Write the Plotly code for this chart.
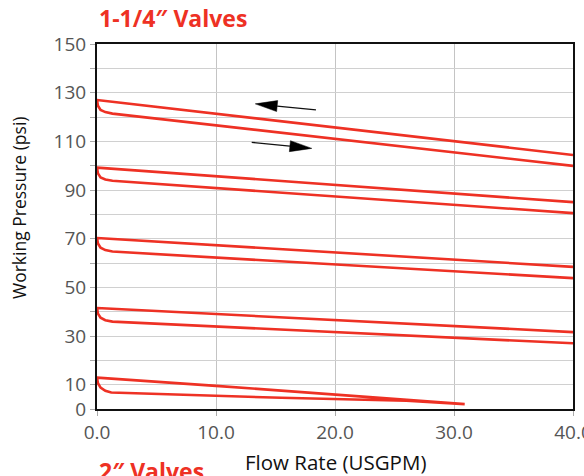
import plotly.graph_objects as go

# ---- data ----
# Each band: upper line (decreasing flow direction) and lower line (increasing flow)
band1_upper_x = [0.0, 40.0]
band1_upper_y = [127.0, 104.4]
band1_lower_x = [0.0, 0.08, 0.3, 0.7, 1.3, 40.0]
band1_lower_y = [127.0, 124.6, 122.9, 122.0, 121.4, 99.9]

band2_upper_x = [0.0, 40.0]
band2_upper_y = [99.2, 85.0]
band2_lower_x = [0.0, 0.08, 0.3, 0.7, 1.3, 40.0]
band2_lower_y = [99.2, 96.8, 95.2, 94.3, 93.8, 80.5]

band3_upper_x = [0.0, 40.0]
band3_upper_y = [70.3, 58.4]
band3_lower_x = [0.0, 0.08, 0.3, 0.7, 1.3, 40.0]
band3_lower_y = [70.3, 68.0, 66.3, 65.3, 64.7, 53.8]

band4_upper_x = [0.0, 40.0]
band4_upper_y = [41.5, 31.6]
band4_lower_x = [0.0, 0.08, 0.3, 0.7, 1.3, 40.0]
band4_lower_y = [41.5, 39.2, 37.5, 36.5, 35.9, 27.0]

band5_upper_x = [0.0, 10.0, 20.0, 30.9]
band5_upper_y = [12.9, 9.5, 6.0, 2.0]
band5_lower_x = [0.0, 0.08, 0.3, 0.7, 1.2, 15.5, 26.0, 30.9]
band5_lower_y = [12.9, 10.6, 8.8, 7.5, 6.8, 4.6, 3.4, 2.0]

bands = [
    (band1_upper_x, band1_upper_y, band1_lower_x, band1_lower_y),
    (band2_upper_x, band2_upper_y, band2_lower_x, band2_lower_y),
    (band3_upper_x, band3_upper_y, band3_lower_x, band3_lower_y),
    (band4_upper_x, band4_upper_y, band4_lower_x, band4_lower_y),
    (band5_upper_x, band5_upper_y, band5_lower_x, band5_lower_y),
]

# arrows: (tail_x, tail_y, tip_x, tip_y)
arrow_left = (18.4, 122.9, 13.3, 125.4)
arrow_right = (13.0, 109.6, 18.05, 107.1)

x_ticks = [0, 10, 20, 30, 40]
x_tick_labels = ["0.0", "10.0", "20.0", "30.0", "40.0"]
y_ticks = list(range(0, 151, 10))
y_tick_labels = ["0", "10", "", "30", "", "50", "", "70", "", "90", "", "110", "", "130", "", "150"]

RED = "#ee3124"
FONT = "Open Sans"

fig = go.Figure()
for ux, uy, lx, ly in bands:
    xs = list(reversed(ux)) + lx[1:]
    ys = list(reversed(uy)) + ly[1:]
    fig.add_trace(go.Scatter(x=xs, y=ys, mode="lines",
                             line=dict(color=RED, width=2.6),
                             hoverinfo="skip", showlegend=False))

# arrow heads as filled triangles (computed in pixel-equivalent space)
W, H = 584, 476
L, R, T, B = 97, 11, 44, 67
PW, PH = W - L - R, H - T - B
pxx = PW / 40.0
pxy = PH / 150.0
for tx, ty, hx, hy in (arrow_left, arrow_right):
    dx = (hx - tx) * pxx
    dy = (hy - ty) * pxy
    n = (dx * dx + dy * dy) ** 0.5
    ux_, uy_ = dx / n, dy / n
    hl, hw = 22.0, 5.5
    bx, by = hx * pxx - ux_ * hl, hy * pxy - uy_ * hl
    p1 = (bx - uy_ * hw, by + ux_ * hw)
    p2 = (bx + uy_ * hw, by - ux_ * hw)
    fig.add_trace(go.Scatter(x=[tx, bx / pxx], y=[ty, by / pxy], mode="lines",
                             line=dict(color="#111111", width=1.3),
                             hoverinfo="skip", showlegend=False))
    fig.add_trace(go.Scatter(x=[hx, p1[0] / pxx, p2[0] / pxx, hx],
                             y=[hy, p1[1] / pxy, p2[1] / pxy, hy],
                             mode="lines", fill="toself", fillcolor="#000000",
                             line=dict(color="#000000", width=0.5),
                             hoverinfo="skip", showlegend=False))


def py(pix):
    return (H - B - pix) / PH


def px(pix):
    return (pix - L) / PW


fig.update_layout(
    width=W, height=H,
    margin=dict(l=L, r=R, t=T, b=B, autoexpand=False),
    plot_bgcolor="white", paper_bgcolor="white",
    font=dict(family=FONT, color="#555555"),
    xaxis=dict(range=[0, 40], tickvals=x_ticks, ticktext=x_tick_labels,
               showgrid=True, gridcolor="#c4c4c4", gridwidth=1,
               showline=True, linecolor="#111111", linewidth=2, mirror=True,
               ticks="outside", ticklen=5, tickcolor="#aaaaaa",
               ticklabeloverflow="allow", automargin=False,
               tickfont=dict(size=19, color="#555555"), zeroline=False),
    yaxis=dict(range=[0, 150], tickvals=y_ticks, ticktext=y_tick_labels,
               showgrid=True, gridcolor="#d0d0d0", gridwidth=1,
               showline=True, linecolor="#111111", linewidth=2, mirror=True,
               ticks="outside", ticklen=5, tickcolor="#aaaaaa",
               ticklabeloverflow="allow", automargin=False,
               tickfont=dict(size=19, color="#555555"), zeroline=False),
    annotations=[
        dict(text="<b>1-1/4″ Valves</b>", xref="paper", yref="paper",
             x=0, y=py(18), xanchor="left", yanchor="middle",
             showarrow=False, font=dict(size=23, color=RED, family=FONT)),
        dict(text="<b>2″ Valves</b>", xref="paper", yref="paper",
             x=0, y=py(471), xanchor="left", yanchor="middle",
             showarrow=False, font=dict(size=23, color=RED, family=FONT)),
        dict(text="Working Pressure (psi)", xref="paper", yref="paper",
             x=px(19), y=py(208),
             xanchor="center", yanchor="middle", textangle=-90,
             showarrow=False, font=dict(size=17.5, color="#111111", family=FONT)),
        dict(text="Flow Rate (USGPM)", xref="paper", yref="paper",
             x=0.5, y=py(462),
             xanchor="center", yanchor="middle",
             showarrow=False, font=dict(size=20.5, color="#111111", family=FONT)),
    ],
)

fig.write_html("out.html")
